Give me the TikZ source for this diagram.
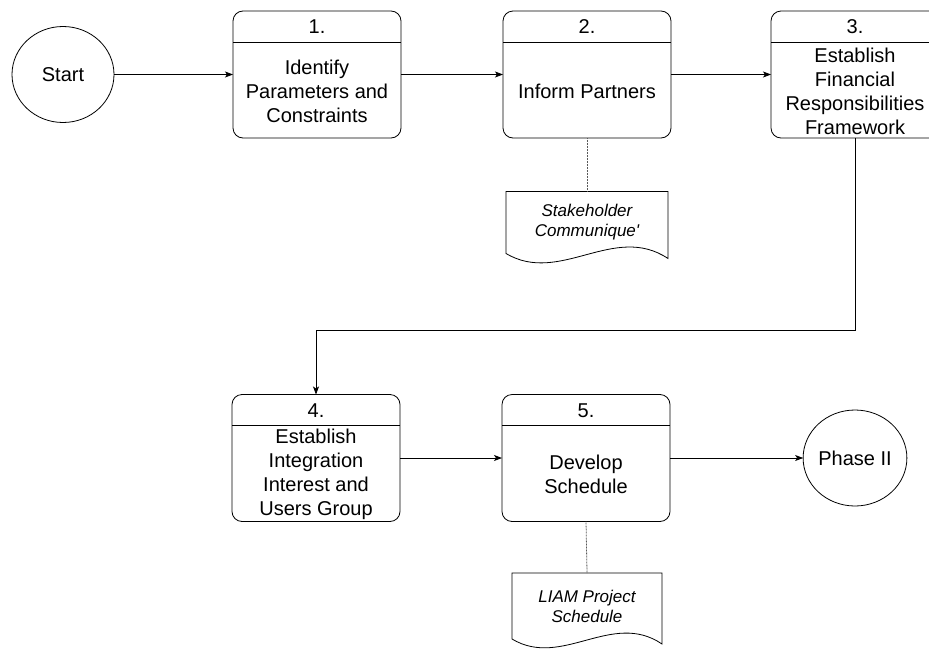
\documentclass[tikz,border=0pt]{standalone}
\usepackage{fontspec}
\setmainfont{Liberation Sans}
\newfontfamily\docfont{Liberation Sans}[Ligatures=TeXOff]
\usetikzlibrary{arrows.meta,shapes.geometric}

\begin{document}
\begin{tikzpicture}[x=1pt,y=-1pt,
  font=\fontsize{20}{24}\selectfont,
  every node/.style={inner sep=0pt, outer sep=0pt},
  stepbox/.style={draw, line width=0.8pt, rounded corners=10pt,
    minimum width=168pt, minimum height=127pt},
  terminal/.style={draw, line width=0.8pt, ellipse,
    minimum width=102pt, minimum height=96pt},
  docbox/.style={minimum height=62pt},
  doctext/.style={font=\docfont\itshape\fontsize{17}{20}\selectfont, align=center},
  arr/.style={line width=0.8pt, -{Stealth[length=8pt,width=6pt,inset=2pt]}},
  dotline/.style={line width=0.8pt, gray!70!black, dash pattern=on 0.8pt off 0.7pt},
  divider/.style={line width=0.8pt}
  ]
\useasboundingbox (0,0) rectangle (929,648);
\clip (0,0) rectangle (929,648);

% terminals
\node[terminal] (start) at (63,74.5) {Start};
\node[terminal] (phase) at (855,458) {Phase II};

% process steps: box, header number, body text
\newcommand{\processstep}[4]{%
  \node[stepbox] (#1) at (#2) {};
  \draw[divider] ([yshift=-31pt]#1.north west) -- ([yshift=-31pt]#1.north east);
  \node at ([yshift=-16pt]#1.north) {#3};
  \node[align=center] at ([yshift=-80pt]#1.north) {#4};
}
\processstep{b1}{317,74.5}{1.}{Identify\\Parameters and\\Constraints}
\processstep{b2}{587,74.5}{2.}{Inform Partners}
\processstep{b3}{855,74.5}{3.}{Establish\\Financial\\Responsibilities\\Framework}
\processstep{b4}{316,458}{4.}{Establish\\Integration\\Interest and\\Users Group}
\processstep{b5}{586,458}{5.}{Develop\\Schedule}

% documents with a wavy lower edge
\node[docbox, minimum width=162pt, doctext] (d1) at (587,222.5) {Stakeholder\\Communique'};
\draw[line width=0.8pt] (d1.south west) -- (d1.north west) -- (d1.north east)
  -- ([yshift=-5pt]d1.south east)
  .. controls +(-54,-36) and +(54,32) .. (d1.south west) -- cycle;

\node[docbox, minimum width=150pt, minimum height=66pt, doctext] (d2) at (587,606) {LIAM Project\\Schedule};
\draw[line width=0.8pt] (d2.south west) -- (d2.north west) -- (d2.north east)
  -- ([yshift=-5pt]d2.south east)
  .. controls +(-50,-34) and +(50,30) .. (d2.south west) -- cycle;

% flow
\coordinate (turn) at (855,330);
\draw[arr] (start) -- (b1);
\draw[arr] (b1) -- (b2);
\draw[arr] (b2) -- (b3);
\draw[arr] (b3.south) -- (turn) -| (b4.north);
\draw[arr] (b4) -- (b5);
\draw[arr] (b5) -- (phase);

% document links
\draw[dotline] (b2.south) -- (d1.north);
\draw[dotline] (b5.south) -- (d2.north);
\end{tikzpicture}
\end{document}
